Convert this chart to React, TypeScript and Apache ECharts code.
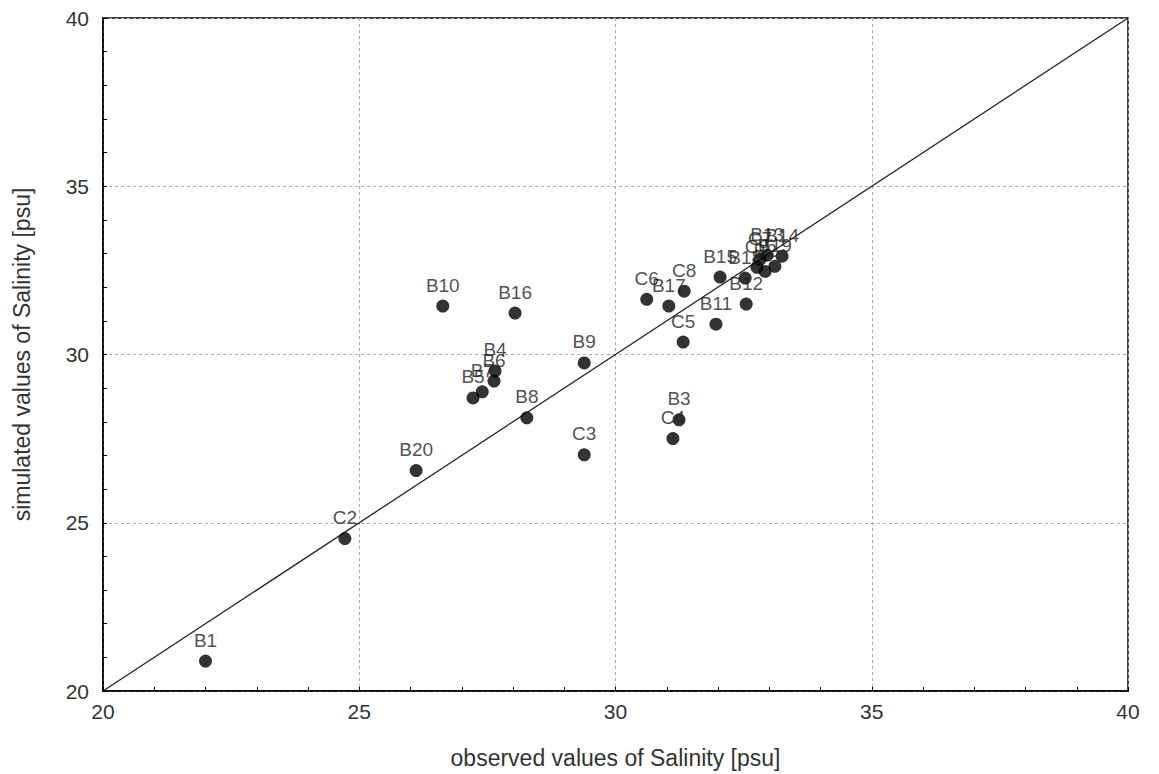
import React, { useEffect, useRef } from "react";
import * as echarts from "echarts";

const stationNames = ["B1", "C2", "B20", "B10", "B16", "B5", "B7", "B4", "B6", "B8", "B9", "C3", "C4", "B3", "C5", "B11", "C6", "B17", "C8", "B15", "B18", "B12", "C9", "C7", "B13", "B2", "B19", "B14"];
const observed = [22.0, 24.72, 26.11, 26.63, 28.04, 27.22, 27.4, 27.65, 27.63, 28.27, 29.39, 29.39, 31.12, 31.24, 31.32, 31.96, 30.61, 31.04, 31.34, 32.04, 32.53, 32.55, 32.76, 32.82, 32.96, 32.92, 33.11, 33.25];
const simulated = [20.89, 24.53, 26.55, 31.44, 31.23, 28.71, 28.89, 29.51, 29.21, 28.12, 29.75, 27.02, 27.5, 28.06, 30.37, 30.9, 31.64, 31.44, 31.88, 32.3, 32.27, 31.5, 32.59, 32.83, 32.95, 32.47, 32.62, 32.92];
const lineEnds = [[20, 20], [40, 40]];
const axisMin = 20;
const axisMax = 40;
const axisStep = 5;

const FONT = "'Liberation Sans', Arial, sans-serif";

export default function App() {
  const ref = useRef<HTMLDivElement>(null);
  useEffect(() => {
    if (!ref.current) return;
    const chart = echarts.init(ref.current, undefined, { renderer: "svg" });
    const points = stationNames.map((n, i) => ({ name: n, value: [observed[i], simulated[i]] }));
    const axisCommon = {
      min: axisMin,
      max: axisMax,
      interval: axisStep,
      nameLocation: "middle" as const,
      nameTextStyle: { fontFamily: FONT, fontSize: 23, color: "#333" },
      axisLine: { show: true, onZero: false, lineStyle: { color: "#000", width: 1.5 } },
      axisTick: { show: true, inside: true, length: 4, lineStyle: { color: "#000" } },
      minorTick: { show: true, splitNumber: 5, length: 4, lineStyle: { color: "#000" } },
      splitLine: { show: true, lineStyle: { color: "#aaa", type: [3, 3], width: 1 } },
      axisLabel: { fontFamily: FONT, fontSize: 21, color: "#333" },
    };
    chart.setOption({
      animation: false,
      backgroundColor: "#fff",
      grid: { left: 103, right: 31, top: 18, bottom: 81, show: true, borderColor: "#000", borderWidth: 1.5, backgroundColor: "transparent" },
      xAxis: {
        ...axisCommon,
        type: "value",
        name: "observed values of Salinity [psu]",
        nameGap: 55,
        axisLabel: { ...axisCommon.axisLabel, margin: 10 },
      },
      yAxis: {
        ...axisCommon,
        type: "value",
        name: "simulated values of Salinity [psu]",
        nameGap: 70,
        axisLabel: { ...axisCommon.axisLabel, margin: 14 },
      },
      series: [
        {
          type: "line",
          data: lineEnds,
          symbol: "none",
          lineStyle: { color: "#222", width: 1.3 },
          silent: true,
          z: 1,
        },
        {
          type: "scatter",
          data: points,
          symbolSize: 13,
          itemStyle: { color: "#000" },
          z: 3,
          label: {
            show: true,
            position: "top",
            distance: 5,
            formatter: "{b}",
            fontFamily: FONT,
            fontSize: 19,
            color: "#222",
          },
        },
      ],
    });
    return () => chart.dispose();
  }, []);
  return <div ref={ref} style={{ position: "absolute", left: 0, top: 0, width: 1159, height: 774 }} />;
}
